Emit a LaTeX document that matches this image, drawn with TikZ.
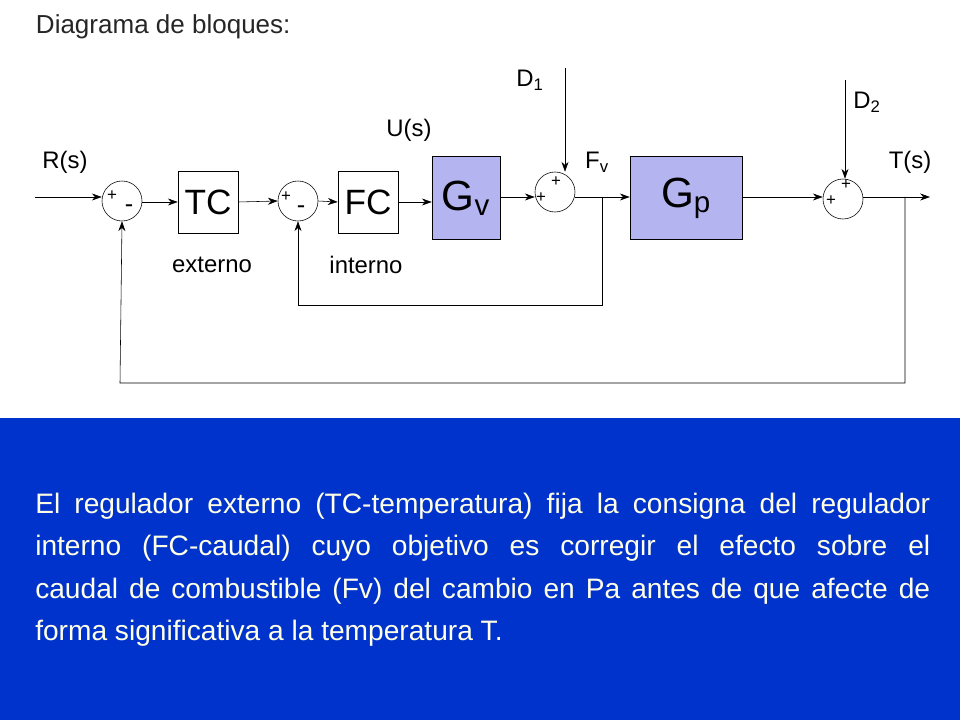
\documentclass[tikz,border=0pt]{standalone}
\usepackage{fontspec}
\setmainfont{Liberation Sans}
\usetikzlibrary{arrows.meta, positioning}
\definecolor{fondo}{RGB}{0,51,204}
\definecolor{lila}{RGB}{180,180,240}
\definecolor{crema}{RGB}{255,255,230}
\begin{document}
\begin{tikzpicture}[x=0.025cm, y=-0.025cm, >={Stealth[length=7pt,width=5pt]}]
\tikzstyle{sumador}=[draw, circle, minimum size=40*0.025cm, inner sep=0pt]
\tikzstyle{rotulo}=[font=\fontsize{17}{17}\selectfont]
\tikzstyle{signo}=[font=\fontsize{12}{12}\selectfont, inner sep=0pt]
\useasboundingbox (0,0) rectangle (960,720);
\fill[fondo] (0,418) rectangle (960,720);
\node[anchor=west, font=\fontsize{18.5}{18.5}\selectfont, text=black!85] (titulo) at (31,27) {Diagrama de bloques:};
% bloques
\node[sumador] (s1) at (122,201) {};
\node[draw, minimum width=60*0.025cm, minimum height=62*0.025cm, font=\fontsize{25}{25}\selectfont] (tc) at (208,202) {TC};
\node[sumador] (s2) at (298,201) {};
\node[draw, minimum width=60*0.025cm, minimum height=62*0.025cm, font=\fontsize{25}{25}\selectfont] (fc) at (368,202) {FC};
\node[draw, fill=lila, minimum width=68*0.025cm, minimum height=83*0.025cm, font=\fontsize{30}{30}\selectfont] (gv) at (466,198) {G\textsubscript{v}};
\node[sumador] (s3) at (555,192) {};
\node[draw, fill=lila, minimum width=112*0.025cm, minimum height=83*0.025cm, font=\fontsize{30}{30}\selectfont] (gp) at (686,198) {G\textsubscript{p}};
\node[sumador] (s4) at (843,199) {};
% entradas y salidas
\coordinate (rin) at (35,197);
\coordinate (tout) at (930,197);
\coordinate (d1) at (565,68);
\coordinate (d2) at (845,80);
\draw[->] (rin) -- (rin -| s1.west);
\draw[->] (s1.east |- tc.west) -- (tc.west);
\draw[->] (tc.east) -- (s2.west);
\draw[->] (s2.east) -- (fc.west);
\draw[->] (fc.east) -- (fc.east -| gv.west);
\draw[->] (gv.east |- 0,197) -- (s3.west |- 0,197);
\draw[->] (s3.east |- 0,197) -- (gp.west |- 0,197);
\draw[->] (gp.east |- 0,197) -- (s4.west |- 0,197);
\draw[->] (s4.east |- tout) -- (tout);
\draw[->] (d1) -- (d1 |- s3.north);
\draw[->] (d2) -- (d2 |- s4.north);
% realimentaciones
\draw[->] (905,197) -- (905,383) -- (120,383) -- (s1.south);
\draw[->] (602,197) -- (602,305) -- (298,305) -- (s2.south);
% signos
\node[signo] (p1) at (112,196) {+};
\node[signo, font=\fontsize{18}{18}\selectfont] (m1) at (129,209) {-};
\node[signo] (p2) at (286,197) {+};
\node[signo, font=\fontsize{18}{18}\selectfont] (m2) at (301,210) {-};
\node[signo] (p3) at (556,182) {+};
\node[signo] (p4) at (541,198) {+};
\node[signo] (p5) at (846,185) {+};
\node[signo] (p6) at (831,201) {+};
% etiquetas
\node[rotulo] (lr) at (65,162) {R(s)};
\node[rotulo] (lu) at (409,130) {U(s)};
\node[rotulo] (lf) at (597,162) {F\textsubscript{v}};
\node[rotulo] (lt) at (910,162) {T(s)};
\node[rotulo] (ld1) at (530,80) {D\textsubscript{1}};
\node[rotulo] (ld2) at (867,102) {D\textsubscript{2}};
\node[rotulo] (lext) at (212,265) {externo};
\node[rotulo] (lint) at (366,265) {interno};
% texto
\node[anchor=north west, text width=895*0.025cm, align=justify, text=crema, inner sep=0pt,
  font=\fontsize{20}{30}\selectfont] (texto) at (35,493)
  {\hyphenpenalty=10000 El regulador externo (TC-temperatura) fija la consigna del regulador\linebreak interno (FC-caudal) cuyo objetivo es corregir el efecto sobre el\linebreak caudal de combustible (Fv) del cambio en Pa antes de que afecte de\linebreak forma significativa a la temperatura T.};
\end{tikzpicture}
\end{document}
